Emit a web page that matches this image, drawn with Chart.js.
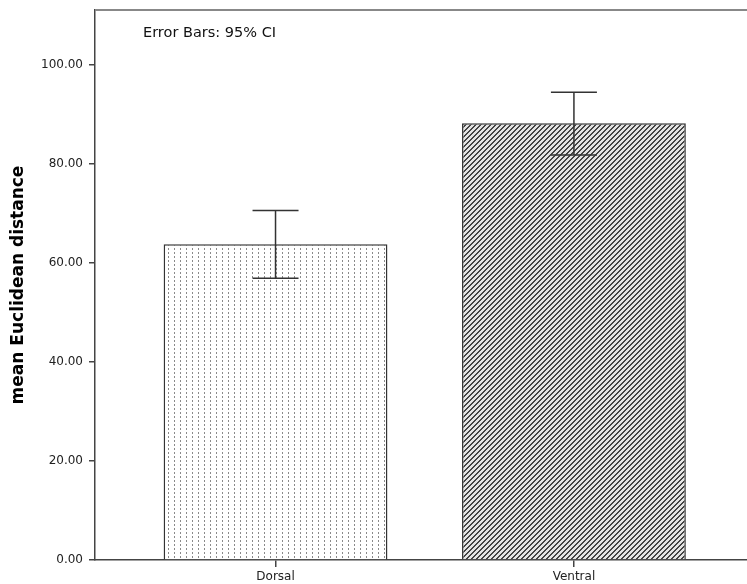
<!DOCTYPE html>
<html>
<head>
<meta charset="utf-8">
<script src="https://cdn.jsdelivr.net/npm/chart.js@4.4.1/dist/chart.umd.min.js"></script>
<style>
  html, body { margin: 0; padding: 0; background: #fff; }
  #wrap { width: 747px; height: 584px; }
</style>
</head>
<body>
<div id="wrap"><canvas id="distChart"></canvas></div>
<script>
// values
var categories = ['Dorsal', 'Ventral'];
var means = [63.8, 88.2];
var ciLow = [56.9, 81.8];
var ciHigh = [70.6, 94.5];
var yTickValues = [0, 20, 40, 60, 80, 100];
var yMax = 111.1;
var noteText = 'Error Bars: 95% CI';

function dotPattern() {
  var c = document.createElement('canvas');
  c.width = 6; c.height = 4;
  var g = c.getContext('2d');
  g.fillStyle = '#fff';
  g.fillRect(0, 0, 6, 4);
  g.fillStyle = '#8a8a8a';
  g.fillRect(0, 0, 1, 2);
  return g.createPattern(c, 'repeat');
}

function hatchPattern() {
  var s = 5;
  var c = document.createElement('canvas');
  c.width = s; c.height = s;
  var g = c.getContext('2d');
  g.fillStyle = '#e4e4e4';
  g.fillRect(0, 0, s, s);
  g.fillStyle = '#444';
  for (var i = 0; i < s; i++) {
    g.fillRect(i, s - 1 - i, 1, 1);
    g.fillRect(i, (s - i) % s, 1, 1);
  }
  return g.createPattern(c, 'repeat');
}

var errorBars = {
  id: 'errorBars',
  afterDatasetsDraw: function(chart) {
    var ctx = chart.ctx;
    var xs = chart.scales.x, ys = chart.scales.y;
    ctx.save();
    ctx.strokeStyle = '#333';
    ctx.lineWidth = 1.5;
    categories.forEach(function(c, i) {
      var px = xs.getPixelForValue(i + 1);
      var top = ys.getPixelForValue(ciHigh[i]);
      var bot = ys.getPixelForValue(ciLow[i]);
      ctx.beginPath();
      ctx.moveTo(px, top); ctx.lineTo(px, bot);
      ctx.moveTo(px - 23, top); ctx.lineTo(px + 23, top);
      ctx.moveTo(px - 23, bot); ctx.lineTo(px + 23, bot);
      ctx.stroke();
    });
    ctx.restore();
  },
  afterDraw: function(chart) {
    var ctx = chart.ctx, a = chart.chartArea;
    ctx.save();
    ctx.strokeStyle = '#888';
    ctx.lineWidth = 2;
    ctx.beginPath();
    ctx.moveTo(a.left, a.top);
    ctx.lineTo(a.right, a.top);
    ctx.stroke();
    ctx.fillStyle = '#111';
    ctx.font = '14.5px "DejaVu Sans"';
    ctx.textBaseline = 'alphabetic';
    ctx.fillText(noteText, a.left + 48, a.top + 27);
    ctx.restore();
  }
};

var ctx = document.getElementById('distChart').getContext('2d');
var distChart = new Chart(ctx, {
  type: 'bar',
  data: {
    datasets: [{
      data: categories.map(function(c, i) { return { x: i + 1, y: means[i] }; }),
      backgroundColor: [dotPattern(), hatchPattern()],
      borderColor: '#333',
      borderWidth: 1.5,
      categoryPercentage: 1,
      barPercentage: 0.75
    }]
  },
  options: {
    responsive: true,
    maintainAspectRatio: false,
    animation: false,
    layout: { padding: { top: 10, right: 0, left: 0, bottom: 0 } },
    plugins: {
      legend: { display: false },
      tooltip: { enabled: false }
    },
    scales: {
      x: {
        type: 'linear',
        offset: false,
        min: 0.395,
        max: 2.58,
        afterBuildTicks: function(axis) {
          axis.ticks = categories.map(function(c, i) { return { value: i + 1 }; });
        },
        afterFit: function(scale) {
          scale.height = 24;
          scale.paddingLeft = 0;
          scale.paddingRight = 0;
        },
        border: { color: '#444', width: 1.5 },
        grid: { offset: false, drawOnChartArea: false, tickLength: 7, color: '#444', lineWidth: 1.5 },
        ticks: {
          padding: 3,
          color: '#222',
          font: { family: 'DejaVu Sans', size: 12 },
          callback: function(v) { return categories[v - 1]; }
        }
      },
      y: {
        min: 0,
        max: yMax,
        afterBuildTicks: function(axis) {
          axis.ticks = yTickValues.map(function(v) { return { value: v }; });
        },
        afterFit: function(scale) {
          scale.width = 95;
          scale.paddingTop = 0;
          scale.paddingBottom = 0;
        },
        border: { color: '#444', width: 1.5 },
        grid: { drawOnChartArea: false, tickLength: 6, color: '#444', lineWidth: 1.5 },
        ticks: {
          padding: 6,
          color: '#222',
          font: { family: 'DejaVu Sans', size: 12 },
          callback: function(v) { return v.toFixed(2); }
        },
        title: {
          display: true,
          text: 'mean Euclidean distance',
          color: '#000',
          padding: { top: 8, bottom: 0 },
          font: { family: 'DejaVu Sans', size: 17, weight: 'bold' }
        }
      }
    }
  },
  plugins: [errorBars]
});
</script>
</body>
</html>
